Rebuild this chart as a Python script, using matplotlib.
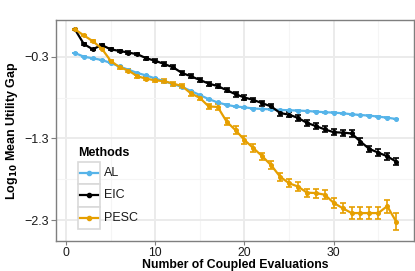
import matplotlib
matplotlib.use("Agg")
import matplotlib.pyplot as plt
from matplotlib.patches import Rectangle
from matplotlib.lines import Line2D
import numpy as np

plt.rcParams['font.family'] = ['Liberation Sans', 'DejaVu Sans']

x = list(range(1, 38))
al = [-0.255, -0.30, -0.32, -0.34, -0.377, -0.42, -0.46, -0.50, -0.53, -0.567,
      -0.60, -0.635, -0.67, -0.72, -0.77, -0.82, -0.86, -0.89, -0.91, -0.92,
      -0.935, -0.94, -0.946, -0.952, -0.956, -0.96, -0.965, -0.973, -0.98, -0.985,
      -0.993, -1.005, -1.014, -1.022, -1.034, -1.047, -1.063]
al_err = [0.005] * 37
eic = [0.035, -0.145, -0.21, -0.157, -0.21, -0.23, -0.25, -0.27, -0.32, -0.35,
       -0.39, -0.43, -0.50, -0.54, -0.585, -0.63, -0.66, -0.71, -0.76, -0.80,
       -0.83, -0.87, -0.91, -0.99, -1.01, -1.05, -1.11, -1.15, -1.19, -1.225,
       -1.23, -1.24, -1.34, -1.43, -1.475, -1.52, -1.585]
eic_err = [0.005, 0.01, 0.01, 0.01, 0.012, 0.012, 0.015, 0.015, 0.018, 0.02,
           0.02, 0.022, 0.022, 0.025, 0.025, 0.025, 0.028, 0.028, 0.03, 0.03,
           0.03, 0.03, 0.032, 0.032, 0.032, 0.035, 0.035, 0.035, 0.035, 0.038,
           0.038, 0.04, 0.04, 0.04, 0.04, 0.04, 0.04]
pesc = [0.035, -0.04, -0.11, -0.20, -0.35, -0.43, -0.47, -0.54, -0.57, -0.59,
        -0.60, -0.63, -0.66, -0.75, -0.805, -0.91, -0.915, -1.095, -1.20, -1.32,
        -1.42, -1.52, -1.63, -1.77, -1.85, -1.89, -1.965, -1.97, -1.99, -2.09,
        -2.155, -2.215, -2.215, -2.215, -2.215, -2.13, -2.32]
pesc_err = [0.005, 0.01, 0.01, 0.012, 0.015, 0.015, 0.018, 0.02, 0.02, 0.02,
            0.022, 0.025, 0.025, 0.03, 0.03, 0.035, 0.035, 0.04, 0.045, 0.045,
            0.045, 0.045, 0.05, 0.05, 0.05, 0.05, 0.05, 0.055, 0.055, 0.06,
            0.065, 0.07, 0.07, 0.07, 0.07, 0.08, 0.1]

methods = ["AL", "EIC", "PESC"]
colors = ["#56B4E9", "#000000", "#E69F00"]
series = [(al, al_err), (eic, eic_err), (pesc, pesc_err)]

xticks = [0, 10, 20, 30]
yticks = [-0.3, -1.3, -2.3]
ytick_labels = ["\u22120.3", "\u22121.3", "\u22122.3"]

W, H = 415, 271
fig = plt.figure(figsize=(W / 100, H / 100), dpi=100)
ax = fig.add_axes([56 / W, 1 - 241 / H, (414 - 56) / W, (241 - 20) / H])

for (vals, err), c in zip(series, colors):
    ax.errorbar(x, vals, yerr=err, color=c, lw=1.6, marker='o', ms=2.6,
                capsize=2.3, capthick=1.2, elinewidth=1.2, zorder=3)

ax.set_xlim(-1.12, 39.0)
ax.set_ylim(-2.557, 0.149)
ax.set_xticks(xticks)
ax.set_yticks(yticks)
ax.set_yticklabels(ytick_labels)
ax.set_xticks([5, 15, 25, 35], minor=True)
ax.set_yticks([-0.8, -1.8], minor=True)
ax.grid(which='major', color='#ebebeb', lw=1.4, zorder=0)
ax.grid(which='minor', color='#f5f5f5', lw=0.8, zorder=0)
ax.set_axisbelow(True)
for s in ax.spines.values():
    s.set_color('#7f7f7f')
    s.set_linewidth(1.0)
ax.tick_params(which='major', length=3.5, color='#7f7f7f', labelsize=9, labelcolor='#1a1a1a')
ax.tick_params(axis='x', which='major', length=3, pad=1.5, labelsize=8.7)
ax.tick_params(axis='y', which='major', pad=1.5)
ax.tick_params(which='minor', length=0)

ax.set_xlabel("Number of Coupled Evaluations", fontsize=8.8, fontweight='bold', labelpad=0)
ax.set_ylabel(r"Log$_{\mathbf{10}}$ Mean Utility Gap", fontsize=9, fontweight='bold', labelpad=3)

# legend
fig.text(78 / W, 1 - 152.5 / H, "Methods", fontsize=9, fontweight='bold', va='center', ha='left')
key_top = 161.7
key_h = 22.5
for i, (m, c) in enumerate(zip(methods, colors)):
    y0 = key_top + i * key_h
    fig.patches.append(Rectangle((78 / W, 1 - (y0 + key_h) / H), 22 / W, key_h / H,
                                 transform=fig.transFigure, facecolor='white',
                                 edgecolor='#d9d9d9', lw=1.2, zorder=5))
    yc = 1 - (y0 + key_h / 2) / H
    fig.lines.append(Line2D([80 / W, 98 / W], [yc, yc], transform=fig.transFigure,
                            color=c, lw=1.6, marker=None, zorder=6))
    fig.lines.append(Line2D([89 / W], [yc], transform=fig.transFigure,
                            color=c, marker='o', ms=3, zorder=7))
    fig.text(103.5 / W, yc, m, fontsize=9, va='center', ha='left', color='#1a1a1a', zorder=7)

fig.savefig("out.png", dpi=100)
